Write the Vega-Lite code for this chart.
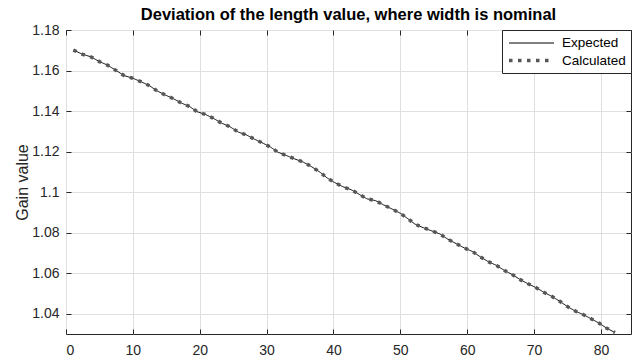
{
  "$schema": "https://vega.github.io/schema/vega-lite/v6.json",
  "width": 565,
  "height": 304,
  "autosize": {"type": "none"},
  "padding": {"left": 66, "top": 30, "right": 2, "bottom": 24},
  "background": "white",
  "title": {"text": "Deviation of the length value, where width is nominal", "font": "Liberation Sans", "fontSize": 16.5, "fontWeight": "bold", "color": "#000000", "offset": 0, "anchor": "middle"},
  "config": {
    "view": {"stroke": "#262626", "strokeWidth": 1},
    "axis": {"labelFont": "Liberation Sans", "labelFontSize": 14, "labelColor": "#262626", "titleFont": "Liberation Sans", "titleFontSize": 16, "titleFontWeight": "normal", "titleColor": "#262626", "gridColor": "#dfdfdf", "gridWidth": 1, "domain": false, "tickColor": "#262626", "tickSize": -5, "tickWidth": 1},
    "legend": {"orient": "top-right", "offset": 0, "strokeColor": "#262626", "fillColor": "white", "padding": 5, "labelFont": "Liberation Sans", "labelFontSize": 13.5, "labelColor": "#000000", "symbolType": "M-1,0H5", "symbolSize": 225, "labelOffset": 36, "rowPadding": 1, "cornerRadius": 0}
  },
  "data": {"values": [
    {"x": 1.1, "Expected": 1.1701, "Calculated": 1.1701},
    {"x": 2.5, "Expected": 1.1680, "Calculated": 1.1680},
    {"x": 3.7, "Expected": 1.1668, "Calculated": 1.1668},
    {"x": 5.0, "Expected": 1.1644, "Calculated": 1.1644},
    {"x": 6.2, "Expected": 1.1627, "Calculated": 1.1627},
    {"x": 7.5, "Expected": 1.1600, "Calculated": 1.1600},
    {"x": 8.7, "Expected": 1.1575, "Calculated": 1.1575},
    {"x": 10.0, "Expected": 1.1562, "Calculated": 1.1562},
    {"x": 11.2, "Expected": 1.1545, "Calculated": 1.1545},
    {"x": 12.5, "Expected": 1.1525, "Calculated": 1.1525},
    {"x": 13.6, "Expected": 1.1500, "Calculated": 1.1500},
    {"x": 14.8, "Expected": 1.1480, "Calculated": 1.1480},
    {"x": 16.0, "Expected": 1.1462, "Calculated": 1.1462},
    {"x": 17.3, "Expected": 1.1439, "Calculated": 1.1439},
    {"x": 18.5, "Expected": 1.1422, "Calculated": 1.1422},
    {"x": 19.6, "Expected": 1.1397, "Calculated": 1.1397},
    {"x": 20.8, "Expected": 1.1384, "Calculated": 1.1384},
    {"x": 22.0, "Expected": 1.1365, "Calculated": 1.1365},
    {"x": 23.3, "Expected": 1.1340, "Calculated": 1.1340},
    {"x": 24.5, "Expected": 1.1323, "Calculated": 1.1323},
    {"x": 25.8, "Expected": 1.1296, "Calculated": 1.1296},
    {"x": 27.0, "Expected": 1.1282, "Calculated": 1.1282},
    {"x": 28.2, "Expected": 1.1261, "Calculated": 1.1261},
    {"x": 29.5, "Expected": 1.1241, "Calculated": 1.1241},
    {"x": 30.6, "Expected": 1.1222, "Calculated": 1.1222},
    {"x": 31.7, "Expected": 1.1197, "Calculated": 1.1197},
    {"x": 33.0, "Expected": 1.1180, "Calculated": 1.1180},
    {"x": 34.2, "Expected": 1.1164, "Calculated": 1.1164},
    {"x": 35.5, "Expected": 1.1148, "Calculated": 1.1148},
    {"x": 36.7, "Expected": 1.1126, "Calculated": 1.1126},
    {"x": 38.0, "Expected": 1.1098, "Calculated": 1.1098},
    {"x": 39.1, "Expected": 1.1069, "Calculated": 1.1069},
    {"x": 40.2, "Expected": 1.1047, "Calculated": 1.1047},
    {"x": 41.4, "Expected": 1.1027, "Calculated": 1.1027},
    {"x": 42.7, "Expected": 1.1011, "Calculated": 1.1011},
    {"x": 43.8, "Expected": 1.0990, "Calculated": 1.0990},
    {"x": 45.0, "Expected": 1.0967, "Calculated": 1.0967},
    {"x": 46.3, "Expected": 1.0958, "Calculated": 1.0958},
    {"x": 47.5, "Expected": 1.0937, "Calculated": 1.0937},
    {"x": 48.8, "Expected": 1.0916, "Calculated": 1.0916},
    {"x": 50.0, "Expected": 1.0896, "Calculated": 1.0896},
    {"x": 51.2, "Expected": 1.0867, "Calculated": 1.0867},
    {"x": 52.2, "Expected": 1.0842, "Calculated": 1.0842},
    {"x": 53.4, "Expected": 1.0825, "Calculated": 1.0825},
    {"x": 54.6, "Expected": 1.0810, "Calculated": 1.0810},
    {"x": 55.9, "Expected": 1.0794, "Calculated": 1.0794},
    {"x": 57.1, "Expected": 1.0768, "Calculated": 1.0768},
    {"x": 58.4, "Expected": 1.0745, "Calculated": 1.0745},
    {"x": 59.6, "Expected": 1.0724, "Calculated": 1.0724},
    {"x": 60.8, "Expected": 1.0707, "Calculated": 1.0707},
    {"x": 61.9, "Expected": 1.0682, "Calculated": 1.0682},
    {"x": 63.1, "Expected": 1.0658, "Calculated": 1.0658},
    {"x": 64.4, "Expected": 1.0638, "Calculated": 1.0638},
    {"x": 65.6, "Expected": 1.0613, "Calculated": 1.0613},
    {"x": 66.8, "Expected": 1.0592, "Calculated": 1.0592},
    {"x": 68.0, "Expected": 1.0567, "Calculated": 1.0567},
    {"x": 69.1, "Expected": 1.0548, "Calculated": 1.0548},
    {"x": 70.4, "Expected": 1.0527, "Calculated": 1.0527},
    {"x": 71.5, "Expected": 1.0505, "Calculated": 1.0505},
    {"x": 72.7, "Expected": 1.0485, "Calculated": 1.0485},
    {"x": 73.9, "Expected": 1.0460, "Calculated": 1.0460},
    {"x": 75.1, "Expected": 1.0433, "Calculated": 1.0433},
    {"x": 76.3, "Expected": 1.0411, "Calculated": 1.0411},
    {"x": 77.4, "Expected": 1.0395, "Calculated": 1.0395},
    {"x": 78.6, "Expected": 1.0374, "Calculated": 1.0374},
    {"x": 79.7, "Expected": 1.0354, "Calculated": 1.0354},
    {"x": 80.8, "Expected": 1.0330, "Calculated": 1.0330},
    {"x": 82.1, "Expected": 1.0307, "Calculated": 1.0307}
  ]},
  "transform": [{"fold": ["Expected", "Calculated"], "as": ["series", "value"]}],
  "layer": [
    {
      "transform": [{"filter": "datum.series === 'Expected'"}],
      "mark": {"type": "line", "interpolate": "linear"},
      "encoding": {
        "x": {"field": "x", "type": "quantitative", "scale": {"domain": [0, 84.5], "nice": false, "zero": false},
              "axis": {"orient": "bottom", "values": [0, 10, 20, 30, 40, 50, 60, 70, 80], "title": null, "grid": true, "labelPadding": 14}},
        "y": {"field": "value", "type": "quantitative", "scale": {"domain": [1.03, 1.18], "nice": false, "zero": false},
              "axis": {"orient": "left", "values": [1.04, 1.06, 1.08, 1.1, 1.12, 1.14, 1.16, 1.18], "format": ".2~f", "title": "Gain value", "grid": true, "labelPadding": 12, "titlePadding": 1}},
        "color": {"field": "series", "type": "nominal", "scale": {"domain": ["Expected", "Calculated"], "range": ["#000000", "#575757"]}, "legend": {"title": null}},
        "strokeDash": {"field": "series", "type": "nominal", "scale": {"domain": ["Expected", "Calculated"], "range": [[1, 0], [3.5, 5.5]]}, "legend": {"title": null}},
        "strokeWidth": {"field": "series", "type": "nominal", "scale": {"domain": ["Expected", "Calculated"], "range": [1, 3.5]}, "legend": {"title": null}}
      }
    },
    {
      "transform": [{"filter": "datum.series === 'Calculated'"}],
      "mark": {"type": "line", "interpolate": "linear"},
      "encoding": {
        "x": {"field": "x", "type": "quantitative",
              "axis": {"orient": "top", "values": [0, 10, 20, 30, 40, 50, 60, 70, 80], "title": null, "grid": false, "labels": false}},
        "y": {"field": "value", "type": "quantitative",
              "axis": {"orient": "right", "values": [1.04, 1.06, 1.08, 1.1, 1.12, 1.14, 1.16, 1.18], "title": null, "grid": false, "labels": false}},
        "color": {"field": "series", "type": "nominal", "legend": {"title": null}},
        "strokeDash": {"field": "series", "type": "nominal", "legend": {"title": null}},
        "strokeWidth": {"field": "series", "type": "nominal", "legend": {"title": null}}
      }
    }
  ],
  "resolve": {"axis": {"x": "independent", "y": "independent"}}
}
